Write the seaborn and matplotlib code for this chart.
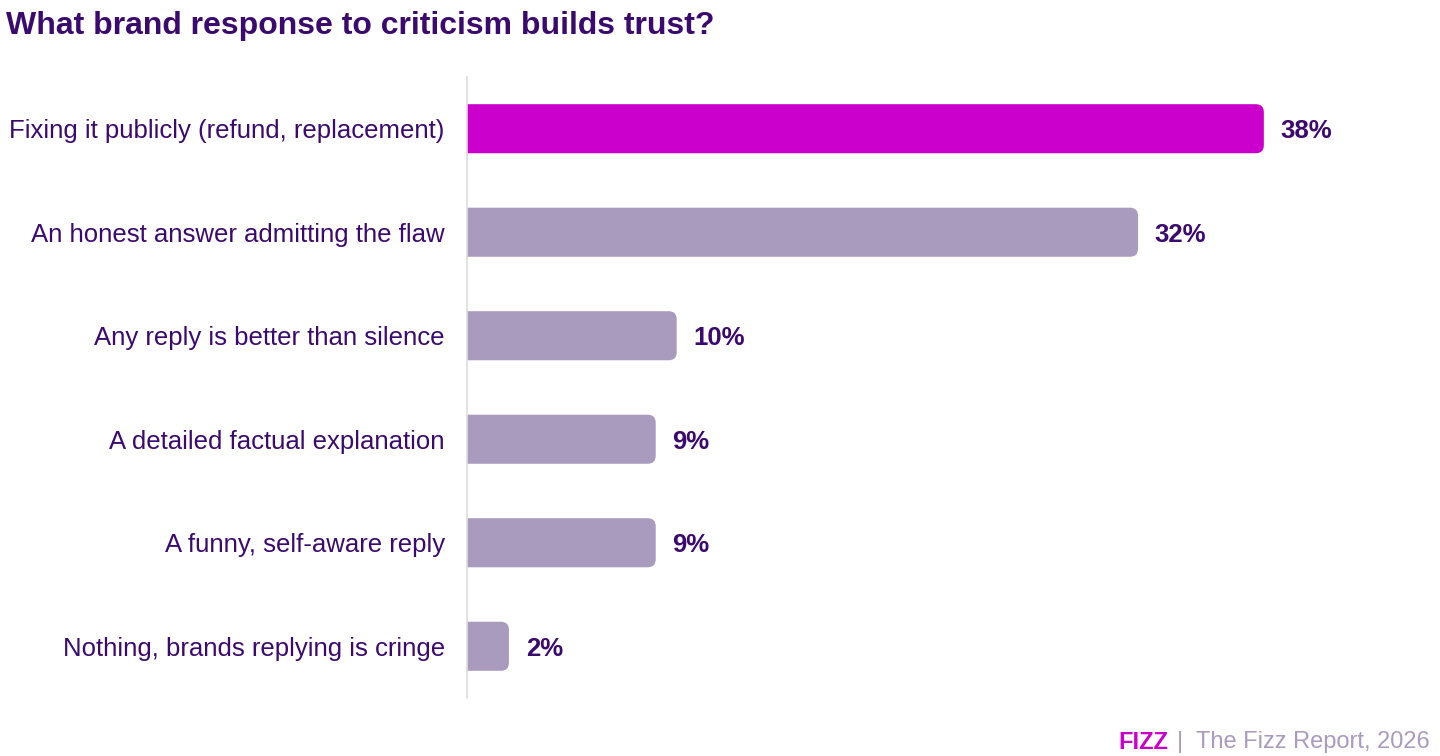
import matplotlib.pyplot as plt
import seaborn as sns
import pandas as pd
from matplotlib.patches import FancyBboxPatch

respuestas = ['Fixing it publicly (refund, replacement)', 'An honest answer admitting the flaw',
              'Any reply is better than silence', 'A detailed factual explanation',
              'A funny, self-aware reply', 'Nothing, brands replying is cringe']
porcentajes = [38, 32, 10, 9, 9, 2]

morado = '#3B0A6E'
magenta = '#CC00CC'
lavanda = '#A99BBE'

df = pd.DataFrame({'respuesta': respuestas, 'pct': porcentajes})
colores = [magenta] + [lavanda] * (len(respuestas) - 1)

sns.set_style('white')
plt.rcParams['font.family'] = ['Liberation Sans', 'DejaVu Sans']

fig = plt.figure(figsize=(14.4, 7.56), dpi=100)
ax = fig.add_axes([0.3243, 0.0767, 0.6757, 0.8215])

sns.barplot(data=df, x='pct', y='respuesta', hue='respuesta', palette=colores,
            saturation=1, legend=False, width=0.474, ax=ax)
ax.set_xlim(0, 46.4)
ax.set_ylim(5.5, -0.5)

# esquinas redondeadas solo a la derecha
px_x = 0.6757 * 1440 / 46.4
px_y = 0.8215 * 756 / 6
radio = 8 / px_x
for p in list(ax.patches):
    x, y, w, h = p.get_x(), p.get_y(), p.get_width(), p.get_height()
    color = p.get_facecolor()
    p.remove()
    caja = FancyBboxPatch((x - radio * 2, y), w + radio * 2, h,
                          boxstyle=f'round,pad=0,rounding_size={radio}',
                          mutation_aspect=px_x / px_y, facecolor=color,
                          edgecolor='none', clip_on=True)
    ax.add_patch(caja)

for i, v in enumerate(porcentajes):
    ax.text(v + 0.8, i, f'{v}%', va='center_baseline', ha='left', fontsize=18.5,
            fontweight='bold', color=morado)

ax.set_xlabel('')
ax.set_ylabel('')
ax.set_xticks([])
ax.tick_params(axis='y', length=0, pad=16, labelsize=18.5, labelcolor=morado)
for s in ['top', 'right', 'bottom']:
    ax.spines[s].set_visible(False)
ax.spines['left'].set_color('#DDDDDD')
ax.spines['left'].set_linewidth(1.2)

fig.text(0.004, 0.966, 'What brand response to criticism builds trust?', fontsize=23,
         fontweight='bold', color=morado, ha='left', va='center')

t = fig.text(0.993, 0.018, '|  The Fizz Report, 2026', fontsize=17, color=lavanda,
             ha='right', va='center')
fig.canvas.draw()
bb = t.get_window_extent()
fig.text(bb.x0 / 1440 - 0.006, 0.018, 'FIZZ', fontsize=17, fontweight='bold',
         color=magenta, ha='right', va='center')

fig.savefig('out.png', dpi=100)
